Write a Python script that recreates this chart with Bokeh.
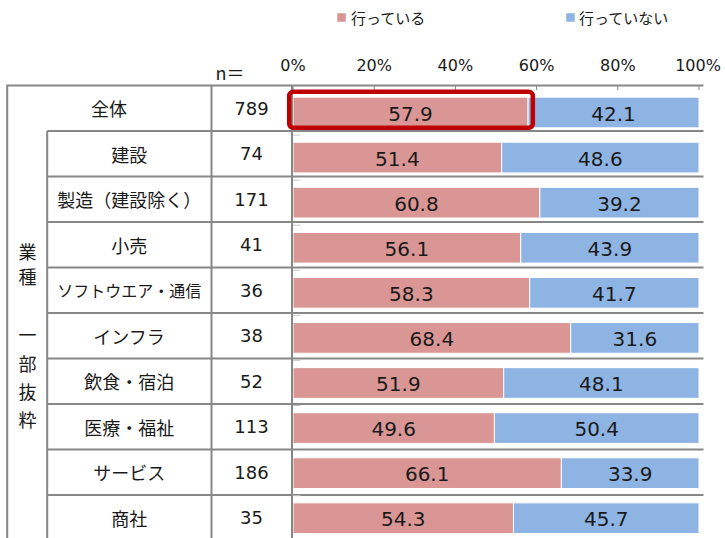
from bokeh.plotting import figure
from bokeh.models import Range1d, ColumnDataSource
from bokeh.core.properties import value
from bokeh.embed import file_html
from bokeh.resources import INLINE

# ---------------- data ----------------
categories = ["全体", "建設", "製造（建設除く）", "小売", "ソフトウエア・通信",
              "インフラ", "飲食・宿泊", "医療・福祉", "サービス", "商社"]
n_values = [789, 74, 171, 41, 36, 38, 52, 113, 186, 35]
doing = [57.9, 51.4, 60.8, 56.1, 58.3, 68.4, 51.9, 49.6, 66.1, 54.3]
not_doing = [42.1, 48.6, 39.2, 43.9, 41.7, 31.6, 48.1, 50.4, 33.9, 45.7]
series_names = ["行っている", "行っていない"]
series_colors = ["#D99694", "#8EB4E3"]
tick_values = [0, 20, 40, 60, 80, 100]
tick_labels = ["0%", "20%", "40%", "60%", "80%", "100%"]
group_label = ["業", "種", "一", "部", "抜", "粋"]
n_header = "n＝"

# ---------------- layout helpers (pixel -> data) ----------------
X0, XS = 292.5, 4.06      # image px of 0 %, px per %
Y0, YS = 112.0, 45.08     # image px of first bar centre, px per row
W, H = 725, 538

def dx(px):
    return (px - X0) / XS

def dy(py):
    return (py - Y0) / YS

p = figure(width=W, height=H, output_backend="svg", toolbar_location=None,
           x_range=Range1d(dx(0), dx(W)), y_range=Range1d(dy(H), dy(0)),
           x_axis_type=None, y_axis_type=None, min_border=0,
           outline_line_color=None, background_fill_color="white",
           border_fill_color="white")
p.grid.visible = False

JP = value("Noto Sans CJK JP")
NUM = value("DejaVu Sans")
GREY = "#878787"

# ---------------- bars ----------------
rows = list(range(len(categories)))
ends = [a + b for a, b in zip(doing, not_doing)]
src = ColumnDataSource(dict(
    y=rows, doing=doing, ends=ends,
    lab1=[f"{v:.1f}" for v in doing], lab2=[f"{v:.1f}" for v in not_doing],
    mid1=[v / 2 for v in doing], mid2=[a + b / 2 for a, b in zip(doing, not_doing)],
))
bar_h = 30.7 / YS
p.hbar(y="y", left=0, right="doing", height=bar_h, source=src,
       fill_color=series_colors[0], line_color="white", line_width=1)
p.hbar(y="y", left="doing", right="ends", height=bar_h, source=src,
       fill_color=series_colors[1], line_color="white", line_width=1)
p.text(x="mid1", y="y", text="lab1", source=src, text_font=NUM, text_font_size="20px",
       text_align="center", text_baseline="middle", text_color="#1a1a1a", y_offset=1)
p.text(x="mid2", y="y", text="lab2", source=src, text_font=NUM, text_font_size="20px",
       text_align="center", text_baseline="middle", text_color="#1a1a1a", y_offset=1)

# ---------------- table lines ----------------
row_h = 45.5
table_top = 85.0
x_right = 703.0
hx0, hx1, hy0, hy1 = [], [], [], []
hx0.append(dx(5.7)); hx1.append(dx(x_right)); hy0.append(dy(table_top)); hy1.append(dy(table_top))
for k in range(1, len(categories)):
    yy = dy(table_top + row_h * k)
    hx0.append(dx(46.7)); hx1.append(dx(x_right)); hy0.append(yy); hy1.append(yy)
p.segment(x0=hx0, y0=hy0, x1=hx1, y1=hy1, line_color=GREY, line_width=2)

vx = [dx(6.7), dx(46.7), dx(211), dx(291.5)]
vy_top = [dy(table_top), dy(table_top + row_h), dy(table_top), dy(table_top)]
p.segment(x0=vx, y0=vy_top, x1=vx, y1=[dy(545)] * 4, line_color=GREY, line_width=2)

# value-axis ticks (top)
p.segment(x0=tick_values, y0=[dy(table_top)] * len(tick_values),
          x1=tick_values, y1=[dy(89.5)] * len(tick_values), line_color=GREY, line_width=1)
# category-axis ticks
cat_ticks = [r - 0.5 for r in rows[1:]]
p.segment(x0=[0] * len(cat_ticks), y0=cat_ticks, x1=[dx(300)] * len(cat_ticks), y1=cat_ticks,
          line_color="#C8C8C8", line_width=1)

# tick labels
tsrc = ColumnDataSource(dict(x=tick_values, t=tick_labels,
                             off=[0] * (len(tick_values) - 1) + [-1]))
p.text(x="x", y=dy(65), text="t", source=tsrc, x_offset="off", text_font=NUM,
       text_font_size="16px", text_align="center", text_baseline="middle",
       text_color="#1a1a1a")
p.text(x=[dx(229.5)], y=[dy(71)], text=[n_header], text_font=JP, text_font_size="18px",
       text_align="center", text_baseline="middle", text_color="#1a1a1a")

# table texts
cat_x = [dx(108.5)] + [dx(128.8)] * (len(categories) - 1)
cat_y = [dy(table_top + row_h * (i + 0.5)) for i in rows]
cat_sizes = ["16px" if len(c) > 8 else "18px" for c in categories]
csrc = ColumnDataSource(dict(x=cat_x, y=cat_y, t=categories, s=cat_sizes))
p.text(x="x", y="y", text="t", text_font_size="s", source=csrc, text_font=JP,
       text_align="center", text_baseline="middle", text_color="#1a1a1a")
p.text(x=[dx(251)] * len(rows), y=cat_y, text=[str(v) for v in n_values], text_font=NUM,
       text_font_size="18px", text_align="center", text_baseline="middle",
       text_color="#1a1a1a")

# vertical group label
g_y = [250, 275, 333, 362, 390, 418]
p.text(x=[dx(27)] * len(group_label), y=[dy(v) for v in g_y], text=group_label,
       text_font=JP, text_font_size="18px", text_align="center", text_baseline="middle",
       text_color="#1a1a1a")

# highlight box around the overall "doing" bar
p.quad(left=[dx(288.7)], right=[doing[0] + 1.17], top=[dy(91.3)], bottom=[dy(127.3)],
       fill_color=None, line_color="#C00000", line_width=4.5, border_radius=4)

# legend
leg_sq_x = [341, 570]
leg_tx_x = [350.5, 578.5]
p.scatter(x=[dx(v) for v in leg_sq_x], y=[dy(17)] * 2, marker="square", size=8.6,
          fill_color=series_colors, line_color=None)
p.text(x=[dx(v) for v in leg_tx_x], y=[dy(17)] * 2, text=series_names, text_font=JP,
       text_font_size="15px", text_align="left", text_baseline="middle",
       text_color="#1a1a1a")

open("out.html", "w").write(file_html(p, INLINE))
